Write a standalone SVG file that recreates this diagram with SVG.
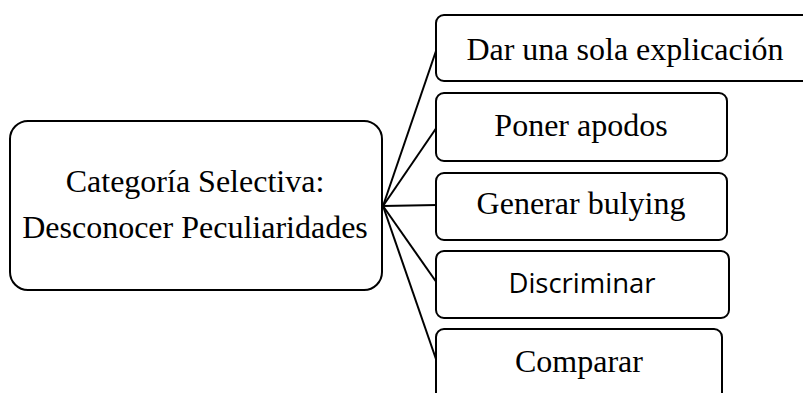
<svg xmlns="http://www.w3.org/2000/svg" width="803" height="393" viewBox="0 0 803 393">
<style>
.box{fill:#fff;stroke:#000;stroke-width:2}
.t{font-family:"Liberation Serif","Times New Roman",serif;font-size:32px;fill:#000;text-anchor:middle}
.s{font-family:"Open Sans","Noto Sans",sans-serif;font-size:27.5px;fill:#000;text-anchor:middle}
.c{stroke:#000;stroke-width:2;fill:none}
</style>
<rect width="803" height="393" fill="#fff"/>
<g id="connectors">
<line class="c" x1="383" y1="206" x2="437" y2="48"/>
<line class="c" x1="383" y1="206" x2="437" y2="127"/>
<line class="c" x1="383" y1="206" x2="437" y2="205"/>
<line class="c" x1="383" y1="206" x2="437" y2="283"/>
<line class="c" x1="383" y1="206" x2="437" y2="362"/>
</g>
<g id="main">
<rect class="box" x="10" y="121" width="372" height="169" rx="18"/>
<text class="t" x="195" y="192">Categoría Selectiva:</text>
<text class="t" x="195" y="238">Desconocer Peculiaridades</text>
</g>
<g id="n1">
<rect class="box" x="436" y="15" width="380" height="66" rx="8"/>
<text class="t" x="625" y="60">Dar una sola explicación</text>
</g>
<g id="n2">
<rect class="box" x="436" y="93" width="291" height="68" rx="8"/>
<text class="t" x="581" y="136">Poner apodos</text>
</g>
<g id="n3">
<rect class="box" x="436" y="173" width="291" height="67" rx="8"/>
<text class="t" x="581" y="214">Generar bulying</text>
</g>
<g id="n4">
<rect class="box" x="436" y="251" width="293" height="67" rx="8"/>
<text class="s" x="582" y="293">Discriminar</text>
</g>
<g id="n5">
<rect class="box" x="436" y="329" width="286" height="80" rx="8"/>
<text class="t" x="579" y="372">Comparar</text>
</g>
</svg>
